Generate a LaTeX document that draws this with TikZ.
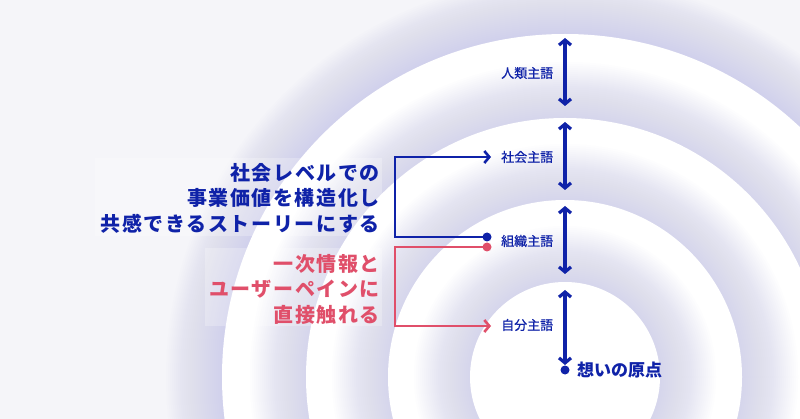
\documentclass[tikz,border=0pt]{standalone}
\usepackage{fontspec}
\setmainfont{Noto Sans CJK JP}
\newfontfamily\jpsp{Noto Sans CJK JP}[LetterSpace=8]
\newfontfamily\jpmed{Noto Sans CJK JP}[FakeBold=0.6]
\usetikzlibrary{arrows.meta}
\definecolor{myblue}{HTML}{0F22A8}
\definecolor{myred}{HTML}{E04F6A}
\definecolor{bgc}{HTML}{F5F5F9}
\definecolor{shc}{HTML}{C6C6EC}
\tikzset{
  dblarrow/.style={myblue, line width=3.2pt, {Straight Barb[length=5pt,width=12pt]}-{Straight Barb[length=5pt,width=12pt]}},
  conn/.style={line width=2.6pt, -{Straight Barb[length=5pt,width=12pt]}},
  dotnode/.style={circle, inner sep=0pt, minimum size=9pt},
  lab/.style={inner sep=0pt, text=myblue, font=\jpmed\fontsize{13}{15}\selectfont},
  bigtxt/.style={inner sep=0pt, align=right, font=\jpsp\bfseries\fontsize{20}{25.5}\selectfont},
  textbg/.style={fill=white, fill opacity=0.25, draw=none}
}
\newcommand{\glowcircle}[1]{%
  \foreach \k in {0,...,27} {
    \fill[shc, opacity=0.032] (565,377) circle ({#1 + 56 - 2*\k});
  }
  \fill[white] (565,377) circle (#1);
}
\begin{document}
\begin{tikzpicture}[x=1pt,y=-1pt]
\useasboundingbox (0,0) rectangle (800,419);
\fill[bgc] (0,0) rectangle (800,419);
\begin{scope}
\clip (0,0) rectangle (800,419);
\glowcircle{343}
\glowcircle{259}
\glowcircle{177}
\glowcircle{95}
\end{scope}

% text backgrounds
\fill[textbg] (95,158) rectangle (382,236);
\fill[textbg] (205,248) rectangle (382,326);

% vertical arrows
\coordinate (a1t) at (565,38);
\coordinate (a1b) at (565,106);
\coordinate (a2t) at (565,122);
\coordinate (a2b) at (565,190);
\coordinate (a3t) at (565,206);
\coordinate (a3b) at (565,274);
\coordinate (a4t) at (565,290);
\coordinate (a4b) at (565,365);
\draw[dblarrow] (a1t) -- (a1b);
\draw[dblarrow] (a2t) -- (a2b);
\draw[dblarrow] (a3t) -- (a3b);
\draw[dblarrow] (a4t) -- (a4b);

% labels
\node[lab, anchor=west] (lJin) at (501,73) {人類主語};
\node[lab, anchor=west] (lSha) at (501,157) {社会主語};
\node[lab, anchor=west] (lSo) at (501,241) {組織主語};
\node[lab, anchor=west] (lJi) at (501,325) {自分主語};

\node[dotnode, fill=myblue] (org) at (565,370) {};
\node[inner sep=0pt, anchor=west, text=myblue, font=\bfseries\fontsize{17}{19}\selectfont] (lOrg) at (577,370) {想いの原点};

% left texts
\node[bigtxt, text=myblue, anchor=east] (tB) at (380,198) {社会レベルでの\\事業価値を構造化し\\共感できるストーリーにする};
\node[bigtxt, text=myred, anchor=east] (tR) at (380,289) {一次情報と\\ユーザーペインに\\直接触れる};

% connectors
\coordinate (bx) at (395,0);
\node[dotnode, fill=myblue] (dB) at (487,237) {};
\node[dotnode, fill=myred] (dR) at (487,247) {};
\coordinate (tipB) at (491,157);
\coordinate (tipR) at (491,326);
\draw[conn, myblue] (dB.center) -- (dB.center -| bx) |- (tipB);
\draw[conn, myred] (dR.center) -- (dR.center -| bx) |- (tipR);
\end{tikzpicture}
\end{document}
